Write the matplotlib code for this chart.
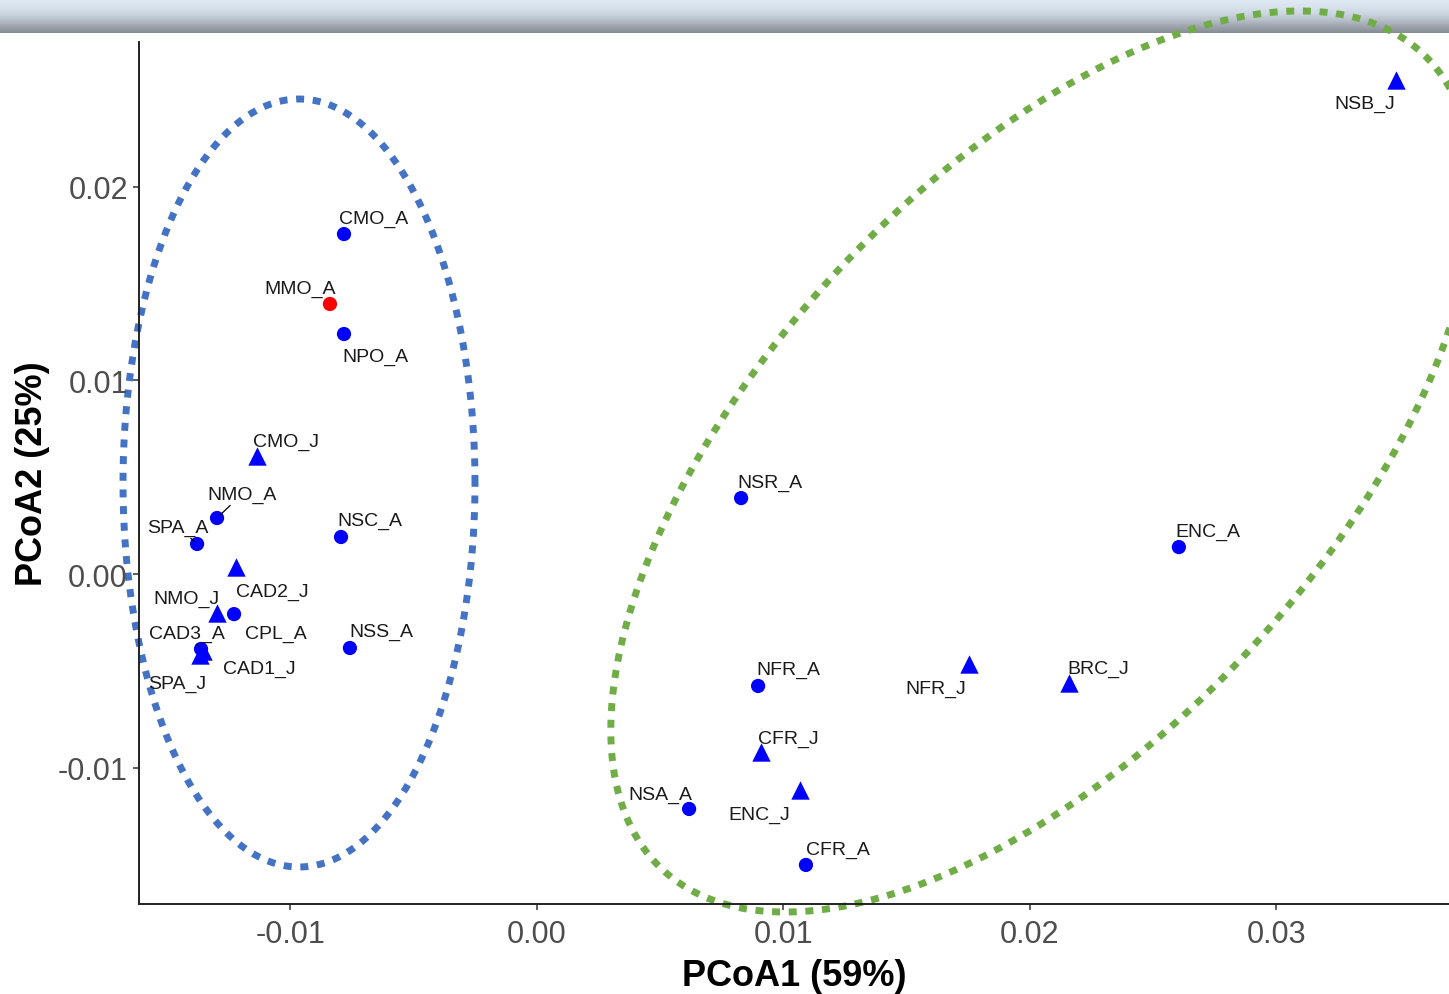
import numpy as np
import matplotlib.pyplot as plt

plt.rcParams['font.family'] = ['Liberation Sans', 'DejaVu Sans']

# PCoA scores, adult samples (circles)
adult_names = ["CMO_A", "NPO_A", "MMO_A", "NMO_A", "SPA_A", "NSC_A", "CPL_A",
               "NSS_A", "CAD3_A", "NSR_A", "NFR_A", "NSA_A", "CFR_A", "ENC_A"]
adult_x = [-0.00783, -0.00783, -0.00840, -0.01298, -0.01379, -0.00795, -0.01229,
           -0.00759, -0.01363, 0.00828, 0.00897, 0.00617, 0.01091, 0.02604]
adult_y = [0.01755, 0.01239, 0.01394, 0.00289, 0.00155, 0.00191, -0.00207,
           -0.00382, -0.00387, 0.00392, -0.00578, -0.01213, -0.01502, 0.00139]

# PCoA scores, juvenile samples (triangles)
juv_names = ["CMO_J", "CAD2_J", "NMO_J", "CAD1_J", "SPA_J", "CFR_J", "ENC_J",
             "NFR_J", "BRC_J", "NSB_J"]
juv_x = [-0.01136, -0.01221, -0.01298, -0.01355, -0.01367, 0.00909, 0.01067,
         0.01753, 0.02158, 0.03485]
juv_y = [0.00609, 0.00036, -0.00201, -0.00398, -0.00418, -0.00919, -0.01115,
         -0.00465, -0.00563, 0.02550]

highlight = "MMO_A"

xticks = [-0.01, 0.00, 0.01, 0.02, 0.03]
xtick_labels = ["-0.01", "0.00", "0.01", "0.02", "0.03"]
yticks = [-0.01, 0.00, 0.01, 0.02]
ytick_labels = ["-0.01", "0.00", "0.01", "0.02"]

# group ellipses: centre, sd x, sd y, correlation
left_group = dict(center=(-0.009655, 0.004698), sx=0.00714, sy=0.019824, r=0.0)
right_group = dict(center=(0.020507, 0.005808), sx=0.017513, sy=0.023258, r=0.5965)

# label placement (pixels right / down from the point)
label_offsets = {
    "CMO_A": (30, -16), "MMO_A": (-30, -16), "NPO_A": (31, 22), "CMO_J": (29, -15),
    "NMO_A": (25, -24), "SPA_A": (-19, -17), "NSC_A": (29, -17), "CAD2_J": (36, 24),
    "NMO_J": (-31, -15), "CAD3_A": (-14, -16), "CPL_A": (42, 19), "NSS_A": (31, -17),
    "CAD1_J": (56, 17), "SPA_J": (-23, 28), "NSR_A": (29, -16), "ENC_A": (29, -16),
    "NFR_A": (30, -17), "NFR_J": (-33, 24), "BRC_J": (29, -15), "CFR_J": (27, -14),
    "ENC_J": (-41, 24), "NSA_A": (-29, -15), "CFR_A": (32, -16), "NSB_J": (-31, 23),
}
with_segment = ["NMO_A", "SPA_A", "CAD3_A"]


def draw_group_ellipse(ax, center, sx, sy, r, color):
    t = np.linspace(0, 2 * np.pi, 500)
    x = center[0] + sx * np.cos(t)
    y = center[1] + sy * (r * np.cos(t) + np.sqrt(1 - r ** 2) * np.sin(t))
    ax.plot(x, y, color=color, lw=5.0, linestyle=(0, (1.15, 1.25)),
            dash_capstyle='butt', clip_on=False, zorder=1)


W, H = 1449, 995
fig = plt.figure(figsize=(W / 100, H / 100), dpi=100)

# window title strip along the top
bar = fig.add_axes([0, 1 - 34 / H, 1, 34 / H])
stops = np.array([[224, 235, 245], [217, 228, 239], [206, 216, 227],
                  [186, 194, 204], [160, 167, 176], [136, 142, 149]]) / 255
rows = np.linspace(0, 1, 34)
grad = np.stack([np.interp(rows, np.linspace(0, 1, len(stops)), stops[:, c])
                 for c in range(3)], axis=-1)[:, None, :]
bar.imshow(grad, aspect='auto', interpolation='bilinear', extent=(0, 1, 0, 1))
bar.set_axis_off()
bar.set_zorder(0)

ax = fig.add_axes([139 / W, (H - 905) / H, (W - 139) / W, (905 - 43) / H])
ax.set_zorder(2)
ax.set_xlim(-0.016146, 0.036998)
ax.set_ylim(-0.017036, 0.027465)

draw_group_ellipse(ax, color='#4472C4', **left_group)
draw_group_ellipse(ax, color='#70AD47', **right_group)

adult_colors = ['#ff0000' if n == highlight else '#0000ff' for n in adult_names]
ax.scatter(adult_x, adult_y, s=105, marker='o', c=adult_colors, linewidths=0, zorder=3)
ax.scatter(juv_x, juv_y, s=175, marker='^', c='#0000ff', linewidths=0, zorder=3)

for name, x, y in zip(adult_names + juv_names, adult_x + juv_x, adult_y + juv_y):
    dx, dy = label_offsets[name]
    arrow = dict(arrowstyle='-', color='black', lw=0.9, shrinkA=0, shrinkB=3) \
        if name in with_segment else None
    ax.annotate(name, (x, y), xytext=(dx, -dy), textcoords='offset pixels',
                ha='center', va='center', fontsize=14, color='#1a1a1a',
                arrowprops=arrow, zorder=4)

for side in ['top', 'right']:
    ax.spines[side].set_visible(False)
for side in ['left', 'bottom']:
    ax.spines[side].set_linewidth(1.4)
    ax.spines[side].set_color('#222222')

ax.set_xticks(xticks)
ax.set_xticklabels(xtick_labels)
ax.set_yticks(yticks)
ax.set_yticklabels(ytick_labels)
ax.tick_params(axis='both', length=4, width=1.1, color='#333333',
               labelsize=22, labelcolor='#4d4d4d')
ax.tick_params(axis='x', pad=7)
ax.tick_params(axis='y', pad=4)

ax.set_xlabel("PCoA1 (59%)", fontsize=26, fontweight='bold', labelpad=6)
ax.set_ylabel("PCoA2 (25%)", fontsize=26, fontweight='bold', labelpad=6)

fig.savefig("out.png", dpi=100)
